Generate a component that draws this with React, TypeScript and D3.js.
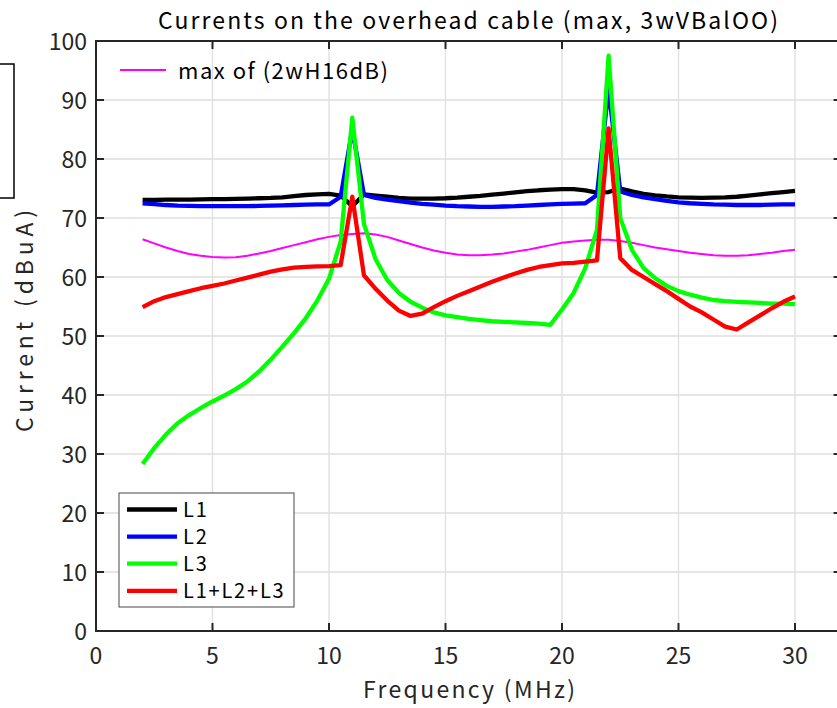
import React from "react";
import * as d3 from "d3";

// Frequency grid (MHz), 0.5 MHz steps from 2 to 30
const freq: number[] = d3.range(2, 30.0001, 0.5).map((f) => +f.toFixed(1));

// Current on each conductor (dBuA)
const L1: number[] = [
  73.05, 73.05, 73.1, 73.1, 73.1, 73.15, 73.2, 73.2, 73.25, 73.3, 73.35, 73.4, 73.5, 73.7, 73.9, 74.0, 74.1, 73.8,
  72.0, 74.0, 73.8, 73.6, 73.4, 73.3, 73.3, 73.3, 73.35, 73.45, 73.6, 73.75, 73.95, 74.15, 74.35, 74.55, 74.7, 74.8,
  74.9, 74.9, 74.7, 74.3, 74.4, 75.0, 74.5, 74.1, 73.85, 73.65, 73.5, 73.45, 73.4, 73.45, 73.5, 73.6, 73.8, 74.0,
  74.2, 74.4, 74.6,
];
const L2: number[] = [
  72.5, 72.35, 72.2, 72.1, 72.05, 72.0, 72.0, 72.0, 72.0, 72.0, 72.05, 72.1, 72.15, 72.2, 72.25, 72.3, 72.3, 73.6,
  85.0, 73.9, 73.4, 73.1, 72.85, 72.6, 72.4, 72.25, 72.1, 72.0, 71.95, 71.9, 71.9, 71.95, 72.0, 72.1, 72.2, 72.3,
  72.4, 72.45, 72.5, 73.9, 92.0, 74.5, 73.9, 73.5, 73.2, 72.9, 72.65, 72.5, 72.4, 72.3, 72.25, 72.2, 72.2, 72.2,
  72.25, 72.3, 72.3,
];
const L3: number[] = [
  28.3, 31.0, 33.3, 35.2, 36.6, 37.8, 38.9, 39.9, 41.0, 42.3, 44.0, 46.0, 48.2, 50.5, 53.0, 56.0, 59.7, 66.0, 87.0,
  69.0, 63.0, 59.5, 57.3, 55.8, 54.8, 54.0, 53.5, 53.2, 52.9, 52.7, 52.5, 52.4, 52.3, 52.2, 52.1, 51.9, 54.5, 57.3,
  61.5, 68.0, 97.5, 70.0, 64.6, 61.5, 59.8, 58.5, 57.6, 57.0, 56.5, 56.1, 55.9, 55.8, 55.7, 55.6, 55.5, 55.5, 55.4,
];
const LSUM: number[] = [
  54.9, 55.9, 56.6, 57.1, 57.6, 58.1, 58.5, 58.9, 59.4, 59.9, 60.4, 60.9, 61.3, 61.6, 61.7, 61.8, 61.85, 62.0, 73.6,
  60.3, 58.0, 56.0, 54.3, 53.4, 53.8, 54.9, 55.9, 56.8, 57.6, 58.4, 59.2, 59.9, 60.6, 61.2, 61.7, 62.0, 62.3, 62.4,
  62.6, 62.8, 85.2, 63.2, 61.2, 60.0, 58.8, 57.6, 56.3, 55.0, 54.0, 52.8, 51.6, 51.1, 52.3, 53.5, 54.7, 55.8, 56.7,
];
// Envelope of the reference configuration
const REF_MAX: number[] = [
  66.4, 65.7, 65.0, 64.4, 63.9, 63.6, 63.4, 63.3, 63.35, 63.6, 64.0, 64.4, 64.9, 65.4, 65.9, 66.4, 66.8, 67.1, 67.3,
  67.4, 67.2, 66.8, 66.2, 65.6, 65.0, 64.5, 64.1, 63.8, 63.7, 63.7, 63.8, 64.0, 64.3, 64.6, 65.0, 65.4, 65.8, 66.0,
  66.2, 66.3, 66.3, 66.1, 65.8, 65.4, 65.0, 64.7, 64.4, 64.1, 63.9, 63.7, 63.6, 63.6, 63.7, 63.9, 64.1, 64.4, 64.6,
];

const xTicks: number[] = [0, 5, 10, 15, 20, 25, 30];
const yTicks: number[] = [0, 10, 20, 30, 40, 50, 60, 70, 80, 90, 100];

const seriesNames = ["L1", "L2", "L3", "L1+L2+L3"];
const seriesColors = ["#000000", "#0000ff", "#00ff00", "#ff0000"];
const seriesData = [L1, L2, L3, LSUM];

const FONT = "'Noto Sans CJK JP', 'Noto Sans', sans-serif";
const W = 837;
const H = 708;
const left = 96;
const top = 41;
const bottom = 631;
const right = 841.6;

export default function App() {
  const x = d3.scaleLinear().domain([0, 32]).range([left, right]);
  const y = d3.scaleLinear().domain([0, 100]).range([bottom, top]);
  const line = (vals: number[]) =>
    d3
      .line<number>()
      .x((_, i) => x(freq[i]))
      .y((v) => y(v))(vals) as string;

  const axisColor = "#262626";
  const gridColor = "#dedede";

  return (
    <svg
      width={W}
      height={H}
      style={{ position: "absolute", left: 0, top: 0, background: "#fff" }}
      fontFamily={FONT}
    >
      <rect x={0} y={0} width={W} height={H} fill="#fff" />

      {/* neighbouring panel's box, partly outside the figure */}
      <rect x={-20} y={64} width={34} height={134} fill="none" stroke="#000" strokeWidth={1.5} />

      {/* grid */}
      {xTicks.map((t) => (
        <line key={"gx" + t} x1={x(t)} x2={x(t)} y1={top} y2={bottom} stroke={gridColor} strokeWidth={1.3} />
      ))}
      {yTicks.map((t) => (
        <line key={"gy" + t} x1={left} x2={right} y1={y(t)} y2={y(t)} stroke={gridColor} strokeWidth={1.3} />
      ))}

      {/* data */}
      <path d={line(REF_MAX)} fill="none" stroke="#ff00ff" strokeWidth={2} strokeLinejoin="round" />
      {seriesData.map((vals, i) => (
        <path
          key={seriesNames[i]}
          d={line(vals)}
          fill="none"
          stroke={seriesColors[i]}
          strokeWidth={4.3}
          strokeLinejoin="round"
        />
      ))}

      {/* axes box */}
      <rect x={left} y={top} width={right - left} height={bottom - top} fill="none" stroke={axisColor} strokeWidth={2} />
      {xTicks.map((t) => (
        <g key={"tx" + t}>
          <line x1={x(t)} x2={x(t)} y1={bottom} y2={bottom - 8} stroke={axisColor} strokeWidth={2} />
          <line x1={x(t)} x2={x(t)} y1={top} y2={top + 8} stroke={axisColor} strokeWidth={2} />
          <text x={x(t)} y={664} textAnchor="middle" fontSize={23} fill="#262626">
            {t}
          </text>
        </g>
      ))}
      {yTicks.map((t) => (
        <g key={"ty" + t}>
          <line x1={left} x2={left + 8} y1={y(t)} y2={y(t)} stroke={axisColor} strokeWidth={2} />
          <line x1={right} x2={right - 8} y1={y(t)} y2={y(t)} stroke={axisColor} strokeWidth={2} />
          <text x={87} y={y(t) + 8.5} textAnchor="end" fontSize={23} fill="#262626">
            {t}
          </text>
        </g>
      ))}

      {/* titles */}
      <text x={158} y={29} fontSize={23} fill="#000" textLength={620} lengthAdjust="spacing">
        Currents on the overhead cable (max, 3wVBalOO)
      </text>
      <text x={363} y={698} fontSize={23} fill="#262626" textLength={212} lengthAdjust="spacing">
        Frequency (MHz)
      </text>
      <text
        transform="translate(33, 432) rotate(-90)"
        fontSize={23}
        fill="#262626"
        textLength={222}
        lengthAdjust="spacing"
      >
        Current (dBuA)
      </text>

      {/* upper legend */}
      <line x1={120} x2={166} y1={70} y2={70} stroke="#ff00ff" strokeWidth={2} />
      <text x={178} y={79} fontSize={22} fill="#000" textLength={210} lengthAdjust="spacing">
        max of (2wH16dB)
      </text>

      {/* lower legend */}
      <rect x={119} y={493} width={175} height={114} fill="#fff" stroke="#666" strokeWidth={1.2} />
      {seriesNames.map((name, i) => (
        <g key={"lg" + name}>
          <line
            x1={127}
            x2={177}
            y1={509.5 + i * 27.1}
            y2={509.5 + i * 27.1}
            stroke={seriesColors[i]}
            strokeWidth={4.3}
          />
          <text x={183} y={509.5 + i * 27.1 + 7.5} fontSize={20} fill="#000" letterSpacing={1.8}>
            {name}
          </text>
        </g>
      ))}
    </svg>
  );
}
